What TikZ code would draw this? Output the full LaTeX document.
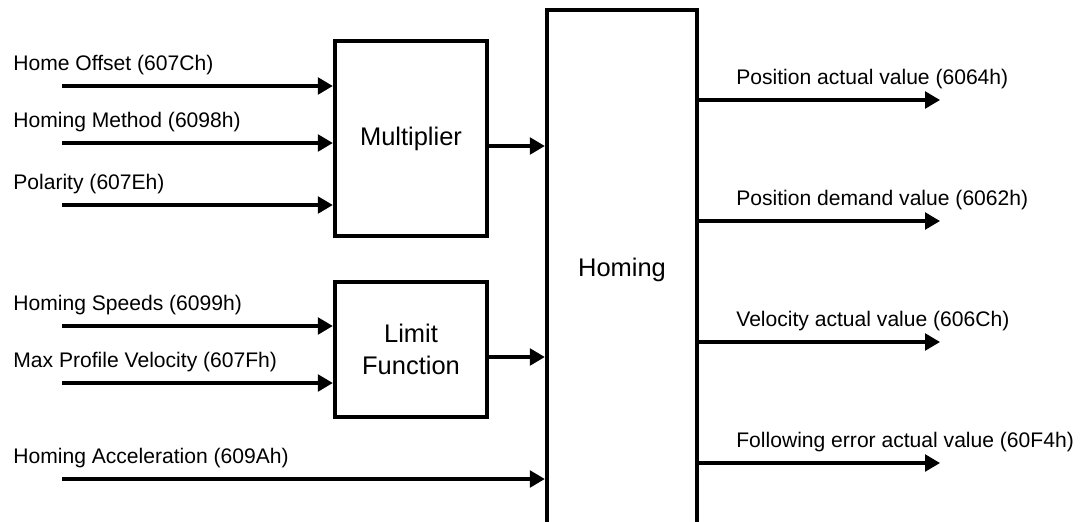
\documentclass[tikz,border=0pt]{standalone}
\usepackage{fontspec}
\setmainfont{Liberation Sans}
\usetikzlibrary{arrows.meta}
\tikzset{
	blk/.style={draw,line width=2.5pt,minimum width=3.04cm,align=center,
		font=\fontsize{14.5}{18}\selectfont},
	sig/.style={line width=1.8pt,-{Triangle[length=8.5pt,width=9.5pt]}},
	lbl/.style={anchor=west,inner sep=0pt,font=\fontsize{12}{14}\selectfont}
}
\begin{document}
\begin{tikzpicture}[x=0.02cm,y=-0.02cm]
	\clip (0,0) rectangle (1081,521);
	\node[blk,minimum height=3.9cm] (mult) at (411,138.5) {Multiplier};
	\node[blk,minimum height=2.7cm] (limit) at (411,349.5) {Limit\\Function};
	\node[blk,minimum width=3cm,minimum height=10.4cm] (homing) at (622,270) {Homing};
	% inputs
	\foreach \y/\t [count=\i] in {86/Home Offset (607Ch),143/Homing Method (6098h),205/Polarity (607Eh)}
		{\node[lbl] (in\i) at (13,\y-21) {\t};
		\coordinate (s\i) at (62,\y);
		\draw[sig] (s\i) -- (s\i -| mult.west);}
	\foreach \y/\t [count=\i from 4] in {326/Homing Speeds (6099h),383/Max Profile Velocity (607Fh)}
		{\node[lbl] (in\i) at (13,\y-21) {\t};
		\coordinate (s\i) at (62,\y);
		\draw[sig] (s\i) -- (s\i -| limit.west);}
	\node[lbl] (in6) at (13,458) {Homing Acceleration (609Ah)};
	\coordinate (s6) at (62,479);
	\draw[sig] (s6) -- (s6 -| homing.west);
	\draw[sig] ([yshift=-0.15cm]mult.east) -- ([yshift=-0.15cm]mult.east -| homing.west);
	\draw[sig] ([yshift=-0.15cm]limit.east) -- ([yshift=-0.15cm]limit.east -| homing.west);
	% outputs
	\foreach \y/\t [count=\i] in {100/Position actual value (6064h),221/Position demand value (6062h),
		342/Velocity actual value (606Ch),463/Following error actual value (60F4h)}
		{\coordinate (o\i) at (940,\y);
		\draw[sig] (o\i -| homing.east) -- (o\i);
		\node[lbl] (out\i) at (736,\y-21) {\t};}
\end{tikzpicture}
\end{document}
